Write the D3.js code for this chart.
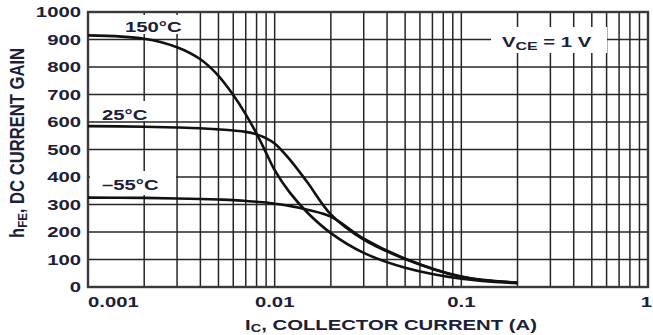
<!DOCTYPE html>
<html>
<head>
<meta charset="utf-8">
<script src="https://cdn.jsdelivr.net/npm/d3@7"></script>
<style>
  body { margin: 0; background: #fff; }
  text { font-family: "Liberation Sans", Arial, sans-serif; font-weight: bold; fill: #1c2038; }
</style>
</head>
<body>
<div id="chart"></div>
<script>
////////////////////////////////////////////////////////////
//////////////////////// Data //////////////////////////////
////////////////////////////////////////////////////////////

//Collector current (A), shared by the three curves
var current = [0.001, 0.002, 0.003, 0.004, 0.005, 0.006, 0.007, 0.008, 0.009,
               0.01, 0.012, 0.015, 0.02, 0.03, 0.05, 0.1, 0.2];

//DC current gain per temperature
var gain150 = [915, 903, 872, 828, 768, 698, 628, 558, 488, 425, 345, 270, 196, 124, 70, 30, 14];
var gain25  = [585, 583, 580, 577, 573, 569, 564, 555, 541, 522, 465, 380, 264, 172, 102, 37, 15];
var gainM55 = [325, 324, 322, 320, 318, 316, 313, 310, 307, 303, 295, 281, 256, 176, 103, 38, 16];

var xTickLabels = ["0.001", "0.01", "0.1", "1"];
var yTicks = [0, 100, 200, 300, 400, 500, 600, 700, 800, 900, 1000];

////////////////////////////////////////////////////////////
//////////////////////// Set-up ////////////////////////////
////////////////////////////////////////////////////////////

var width = 653,
    height = 335,
    margin = {top: 12, right: 5, bottom: 48, left: 88},
    stretch = 1.45; //text in the scan is wider than it is tall

var x = d3.scaleLog()
    .domain([0.001, 1])
    .range([margin.left, width - margin.right]);

var y = d3.scaleLinear()
    .domain([0, 1000])
    .range([height - margin.bottom, margin.top]);

var svg = d3.select("#chart").append("svg")
    .attr("width", width)
    .attr("height", height);

//Grid
var grid = svg.append("g").attr("class", "grid");

grid.selectAll(".vline")
    .data(x.ticks())
  .enter().append("line")
    .attr("x1", function(d) { return x(d); })
    .attr("x2", function(d) { return x(d); })
    .attr("y1", y(0))
    .attr("y2", y(1000))
    .style("stroke", "#262626")
    .style("stroke-width", 1.5);

grid.selectAll(".hline")
    .data(yTicks)
  .enter().append("line")
    .attr("x1", x(0.001))
    .attr("x2", x(1))
    .attr("y1", function(d) { return y(d); })
    .attr("y2", function(d) { return y(d); })
    .style("stroke", "#262626")
    .style("stroke-width", 1.5);

//White boxes behind the in-plot labels
var boxes = [
  {x0: 115, x1: 192, y0: 15, y1: 34},
  {x0: 91, x1: 160, y0: 101, y1: 121},
  {x0: 90, x1: 176, y0: 171, y1: 195},
  {x0: 491, x1: 607, y0: 27, y1: 53}
];
svg.selectAll(".box")
    .data(boxes)
  .enter().append("rect")
    .attr("x", function(d) { return d.x0; })
    .attr("y", function(d) { return d.y0; })
    .attr("width", function(d) { return d.x1 - d.x0; })
    .attr("height", function(d) { return d.y1 - d.y0; })
    .style("fill", "#fff");

//Frame
svg.append("rect")
    .attr("x", x(0.001))
    .attr("y", y(1000))
    .attr("width", x(1) - x(0.001))
    .attr("height", y(0) - y(1000))
    .style("fill", "none")
    .style("stroke", "#3a3a3a")
    .style("stroke-width", 2.4);

//Curves
var line = d3.line()
    .x(function(d) { return x(d[0]); })
    .y(function(d) { return y(d[1]); })
    .curve(d3.curveCatmullRom.alpha(0.5));

[gain150, gain25, gainM55].forEach(function(g) {
  svg.append("path")
      .datum(current.map(function(c, i) { return [c, g[i]]; }))
      .attr("d", line)
      .style("fill", "none")
      .style("stroke", "#111")
      .style("stroke-width", 2.6);
});

////////////////////////////////////////////////////////////
//////////////////////// Text //////////////////////////////
////////////////////////////////////////////////////////////

function label(px, py, anchor, size) {
  return svg.append("text")
      .attr("transform", "translate(" + px + "," + py + ") scale(" + stretch + ",1)")
      .style("text-anchor", anchor)
      .style("font-size", size + "px");
}

//Y tick labels
yTicks.forEach(function(d) {
  label(81, y(d) + 5, "end", 14).text(d);
});

//X tick labels
var xAnchors = ["start", "middle", "middle", "end"];
xTickLabels.forEach(function(t, i) {
  var px = x(+t);
  if (i === 3) px = 652;
  label(px, 307, xAnchors[i], 14).text(t);
});

//Curve labels
label(125, 32, "start", 14).text("150°C");
label(102, 120, "start", 14).text("25°C");
label(102, 190, "start", 14).text("\u201355°C");

var vce = label(502, 47, "start", 14);
vce.append("tspan").text("V");
vce.append("tspan").attr("dy", 3).style("font-size", "11px").text("CE");
vce.append("tspan").attr("dy", -3).text(" = 1 V");

//Axis titles
var xt = label(391, 330, "middle", 14);
xt.append("tspan").text("I");
xt.append("tspan").attr("dy", 2).style("font-size", "10px").text("C");
xt.append("tspan").attr("dy", -2).text(", COLLECTOR CURRENT (A)");

var yt = svg.append("text")
    .attr("transform", "translate(24,143) rotate(-90) scale(1,1.5)")
    .style("text-anchor", "middle")
    .style("font-size", "13px")
    .attr("textLength", 190)
    .attr("lengthAdjust", "spacingAndGlyphs");
yt.append("tspan").text("h");
yt.append("tspan").attr("dy", 2).style("font-size", "9px").text("FE");
yt.append("tspan").attr("dy", -2).text(", DC CURRENT GAIN");
</script>
</body>
</html>
